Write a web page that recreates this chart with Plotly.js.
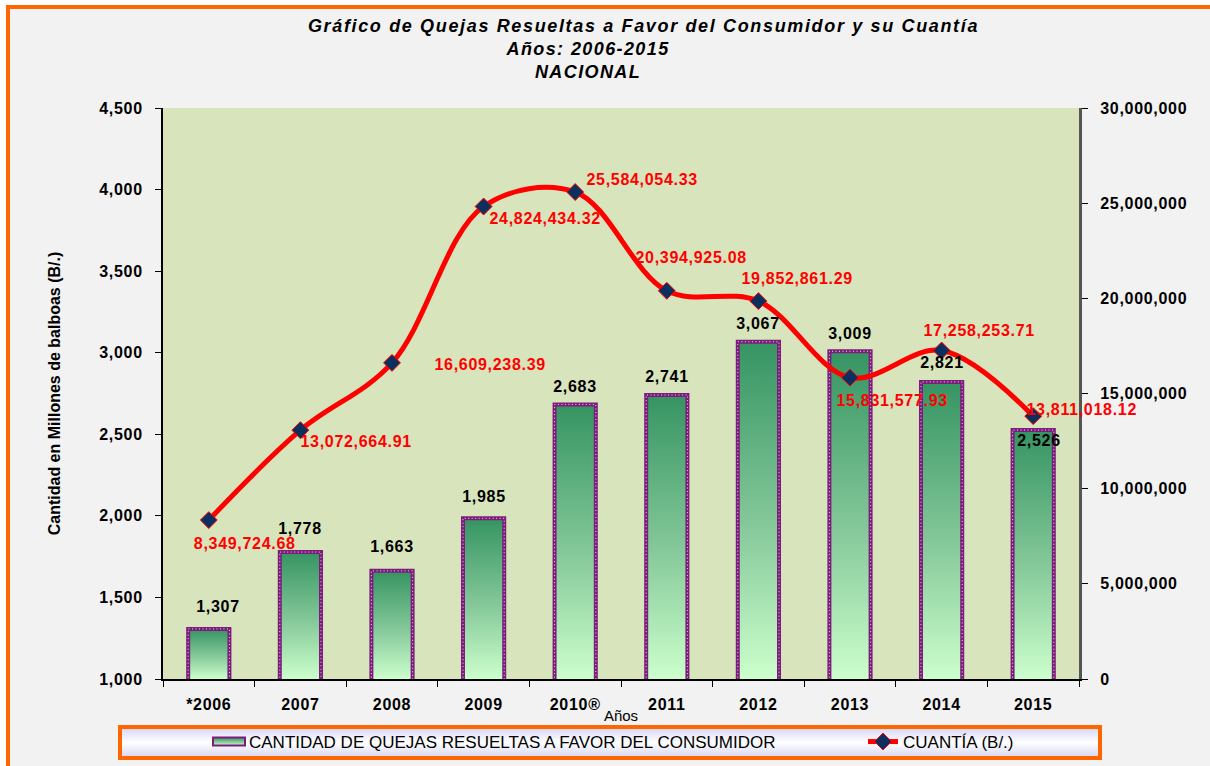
<!DOCTYPE html>
<html>
<head>
<meta charset="utf-8">
<script src="https://cdn.plot.ly/plotly-3.0.1.min.js"></script>
<style>
  html, body { margin: 0; padding: 0; width: 1210px; height: 766px; overflow: hidden; background: #ffffff; }
  #frame { position: absolute; left: 6px; top: 5px; width: 1220px; height: 770px; background: #f2f2f2; border: 4px solid #ff6600; box-sizing: border-box; }
  #chart { position: absolute; left: 0; top: 0; width: 1210px; height: 766px; }
</style>
</head>
<body>
<div id="frame"></div>
<div id="chart"></div>
<script>
// ---- data ----
const years = ['*2006', '2007', '2008', '2009', '2010®', '2011', '2012', '2013', '2014', '2015'];
const quejas = [1307, 1778, 1663, 1985, 2683, 2741, 3067, 3009, 2821, 2526];
const cuantia = [8349724.68, 13072664.91, 16609238.39, 24824434.32, 25584054.33,
                 20394925.08, 19852861.29, 15831577.93, 17258253.71, 13811018.12];
const leftTicks = [1000, 1500, 2000, 2500, 3000, 3500, 4000, 4500];
const rightTicks = [0, 5000000, 10000000, 15000000, 20000000, 25000000, 30000000];
const titleLine1 = 'Gráfico de Quejas Resueltas a Favor del Consumidor y su Cuantía';
const titleLines23 = 'Años: 2006-2015<br>NACIONAL';

// label placement offsets (pixels) - layout only
const barLabelShift = [[9,22],[0,24],[0,24],[0,22],[0,18],[0,18],[0,18],[0,18],[0,19],[6,-10]];
const lineLabelShift = [[36,-23],[56,-11],[98,-2],[61,-12],[67,13],[24,33],[39,23],[42,-23],[37,20],[49,7]];

const FONT = 'Arial, "Liberation Sans", sans-serif';
const BAR_SOLID = 'rgb(61, 154, 106)';
const LEG_BG = 'rgb(235, 235, 249)';

const fmt0 = v => v.toLocaleString('en-US');
const fmt2 = v => v.toLocaleString('en-US', {minimumFractionDigits: 2, maximumFractionDigits: 2});

const traces = [
  {
    type: 'bar', x: years, y: quejas,
    name: 'CANTIDAD DE QUEJAS RESUELTAS A FAVOR DEL CONSUMIDOR',
    marker: { color: BAR_SOLID, line: { color: '#7c1c7c', width: 4 } },
    legend: 'legend', hoverinfo: 'skip'
  },
  {
    type: 'scatter', mode: 'lines+markers', x: years, y: cuantia, yaxis: 'y2',
    name: 'CUANTÍA (B/.)',
    line: { color: '#ff0000', width: 5, shape: 'spline', smoothing: 1 },
    marker: { symbol: 'diamond', size: 13, color: '#0b2f5e', line: { color: '#ff0000', width: 1 } },
    legend: 'legend2', hoverinfo: 'skip'
  }
];

const L = 163, R = 1079, T = 108, B = 679;
const pw = R - L, ph = B - T;
const px = v => (v - L) / pw;
const py = v => (B - v) / ph;

const annotations = [{
  xref: 'paper', yref: 'paper', x: px(588), y: py(61), xanchor: 'center', yanchor: 'middle',
  text: titleLines23, showarrow: false, align: 'center',
  font: { family: FONT, size: 18, weight: 'bold', style: 'italic', color: '#000000' }
}];
years.forEach((yr, i) => {
  annotations.push({
    x: i, y: quejas[i], xref: 'x', yref: 'y', text: fmt0(quejas[i]), showarrow: false,
    xshift: barLabelShift[i][0], yshift: barLabelShift[i][1],
    font: { family: FONT, size: 16, color: '#000000', weight: 'bold' }
  });
  annotations.push({
    x: i, y: cuantia[i], xref: 'x', yref: 'y2', text: fmt2(cuantia[i]), showarrow: false,
    xshift: lineLabelShift[i][0], yshift: lineLabelShift[i][1],
    font: { family: FONT, size: 16, color: '#ff0000', weight: 'bold' }
  });
});

const legendFont = { family: FONT, size: 17, color: '#000000' };

const layout = {
  width: 1210, height: 766,
  margin: { l: L, r: 1210 - R, t: T, b: 766 - B, pad: 0 },
  paper_bgcolor: 'rgba(0,0,0,0)',
  plot_bgcolor: '#d8e4bc',
  font: { family: FONT, color: '#000000' },
  title: {
    text: titleLine1,
    xref: 'container', x: 643.5 / 1210, xanchor: 'center',
    yref: 'container', y: 1 - 26 / 766, yanchor: 'middle',
    font: { family: FONT, size: 18, weight: 'bold', style: 'italic', color: '#000000' }
  },
  bargap: 0.55,
  showlegend: true,
  legend: {
    orientation: 'h', xref: 'container', yref: 'container',
    x: 209 / 1210, xanchor: 'left', y: 1 - 742 / 766, yanchor: 'middle',
    bgcolor: 'rgba(0,0,0,0)', borderwidth: 0, font: legendFont, itemwidth: 30
  },
  legend2: {
    orientation: 'h', xref: 'container', yref: 'container',
    x: 863 / 1210, xanchor: 'left', y: 1 - 742 / 766, yanchor: 'middle',
    bgcolor: 'rgba(0,0,0,0)', borderwidth: 0, font: legendFont, itemwidth: 30
  },
  xaxis: {
    type: 'category', categoryorder: 'array', categoryarray: years, range: [-0.5, years.length - 0.5],
    showline: true, linecolor: '#000000', linewidth: 2,
    ticks: 'outside', ticklen: 6, tickcolor: '#000000', tickson: 'boundaries',
    showgrid: false, zeroline: false, ticklabelstandoff: 10, tickangle: 0,
    tickfont: { family: FONT, size: 16, weight: 'bold', color: '#000000' },
    title: { text: 'Años', standoff: 6, font: { family: FONT, size: 15, color: '#000000' } }
  },
  yaxis: {
    range: [1000, 4500], tickvals: leftTicks, ticktext: leftTicks.map(fmt0),
    showline: true, linecolor: '#000000', linewidth: 2,
    ticks: 'outside', ticklen: 6, tickcolor: '#000000', showgrid: false, zeroline: false,
    ticklabelstandoff: 9,
    tickfont: { family: FONT, size: 16, weight: 'bold', color: '#000000' },
    title: { text: 'Cantidad en Millones de balboas (B/.)', standoff: 38,
             font: { family: FONT, size: 16, weight: 'bold', color: '#000000' } }
  },
  yaxis2: {
    overlaying: 'y', side: 'right', range: [0, 30000000],
    tickvals: rightTicks, ticktext: rightTicks.map(fmt0),
    showline: true, linecolor: '#555555', linewidth: 3,
    ticks: 'outside', ticklen: 6, tickcolor: '#000000', showgrid: false, zeroline: false,
    ticklabelstandoff: 9,
    tickfont: { family: FONT, size: 16, weight: 'bold', color: '#000000' }
  },
  shapes: [
    { type: 'rect', xref: 'paper', yref: 'paper', layer: 'below',
      x0: px(120), x1: px(1100), y0: py(758), y1: py(727),
      fillcolor: LEG_BG, line: { color: '#ff6600', width: 4 } }
  ],
  annotations: annotations
};

Plotly.newPlot('chart', traces, layout, { displayModeBar: false, staticPlot: true }).then(gd => {
  const svg = gd.querySelector('.main-svg');
  const ns = 'http://www.w3.org/2000/svg';
  let defs = svg.querySelector('defs');
  if (!defs) { defs = document.createElementNS(ns, 'defs'); svg.insertBefore(defs, svg.firstChild); }
  const barStops = [['0', '#359462'], ['0.55', '#86c99a'], ['1', '#ccffcc']];
  const mkGrad = (id, stops, user) => {
    const g = document.createElementNS(ns, 'linearGradient');
    g.setAttribute('id', id);
    if (user) {
      g.setAttribute('gradientUnits', 'userSpaceOnUse');
      g.setAttribute('x1', '0'); g.setAttribute('x2', '0');
      g.setAttribute('y1', String(user[0])); g.setAttribute('y2', String(user[1]));
    } else {
      g.setAttribute('x1', '0'); g.setAttribute('y1', '0');
      g.setAttribute('x2', '0'); g.setAttribute('y2', '1');
    }
    stops.forEach(([o, c]) => {
      const s = document.createElementNS(ns, 'stop');
      s.setAttribute('offset', o); s.setAttribute('stop-color', c);
      g.appendChild(s);
    });
    defs.appendChild(g);
  };
  mkGrad('barGrad', barStops);
  mkGrad('legGrad', [['0', '#d4d4f2'], ['0.5', '#ffffff'], ['1', '#d4d4f2']]);
  const plotH = gd._fullLayout._size.h;

  // bars in plot: gradient from bar top down to visible axis bottom, plus dotted border
  gd.querySelectorAll('.barlayer .point path').forEach((p, i) => {
    const bb = p.getBBox();
    const bottom = Math.min(bb.y + bb.height, plotH);
    mkGrad('barGrad' + i, barStops, [bb.y, bottom]);
    p.style.fill = 'url(#barGrad' + i + ')';
    const dots = p.cloneNode(false);
    dots.style.fill = 'none';
    dots.style.stroke = 'rgba(255,255,255,0.85)';
    dots.style.strokeWidth = '1px';
    dots.style.strokeDasharray = '1 2.5';
    p.parentNode.appendChild(dots);
  });
  gd.querySelectorAll('path').forEach(p => {
    if (p.style.fill === BAR_SOLID) p.style.fill = 'url(#barGrad)';
    if (p.style.fill === LEG_BG) p.style.fill = 'url(#legGrad)';
  });
  // wide rectangle legend symbol for the bar series
  gd.querySelectorAll('.legend .legendpoints path').forEach(p => {
    const f = p.style.fill;
    if (f.indexOf('barGrad') >= 0) {
      p.setAttribute('d', 'M16,4H-16V-4H16Z');
      p.style.strokeWidth = '2px';
    }
  });
  // Excel-like wider letter spacing
  gd.querySelectorAll('.annotation-text, .xtick text, .ytick text, .y2tick text').forEach(t => {
    t.style.letterSpacing = '0.7px';
  });
  const titleAnn = gd.querySelector('.annotation[data-index="0"] .annotation-text');
  if (titleAnn) titleAnn.style.letterSpacing = '1.4px';
  const gt = gd.querySelector('.gtitle');
  if (gt) gt.style.letterSpacing = '1.65px';
});
</script>
</body>
</html>
